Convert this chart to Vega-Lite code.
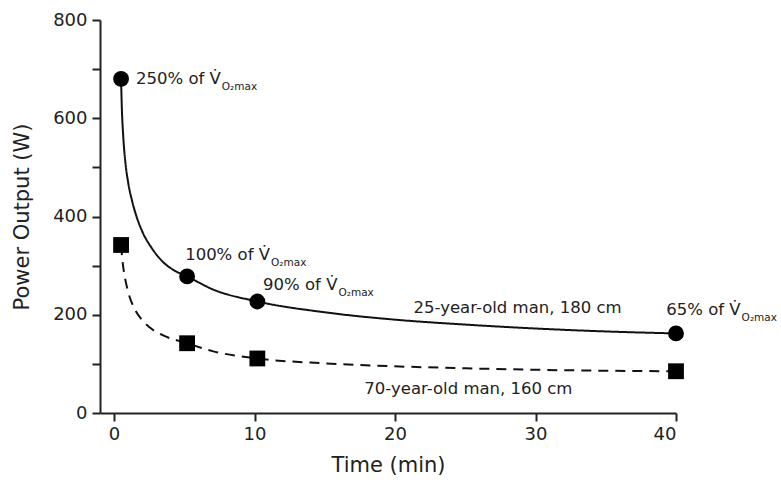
{
  "$schema": "https://vega.github.io/schema/vega-lite/v6.json",
  "width": 576,
  "height": 393,
  "autosize": {"type": "none"},
  "padding": {"left": 100, "top": 20, "right": 105, "bottom": 73},
  "background": "white",
  "config": {
    "view": {"stroke": null},
    "font": "DejaVu Sans",
    "axis": {
      "grid": false,
      "domainColor": "#222",
      "domainWidth": 2,
      "tickColor": "#222",
      "tickWidth": 2,
      "tickSize": 8,
      "labelFont": "DejaVu Sans",
      "labelFontSize": 18,
      "labelColor": "#222",
      "titleFont": "DejaVu Sans",
      "titleFontSize": 21,
      "titleFontWeight": "normal",
      "titleColor": "#222"
    }
  },
  "encoding": {
    "x": {
      "field": "t",
      "type": "quantitative",
      "scale": {"domain": [-1, 40], "nice": false, "zero": false},
      "axis": {"title": "Time (min)", "values": [0, 10, 20, 30, 40], "labelPadding": 4, "titlePadding": 11}
    },
    "y": {
      "field": "P",
      "type": "quantitative",
      "scale": {"domain": [0, 800], "nice": false},
      "axis": {
        "title": "Power Output (W)",
        "values": [0, 100, 200, 300, 400, 500, 600, 700, 800],
        "labelExpr": "datum.value % 200 === 0 ? datum.label : ''",
        "labelPadding": 5,
        "titlePadding": 20
      }
    }
  },
  "layer": [
    {
      "data": {
        "values": [
          {"group": "young", "t": 0.5, "P": 680},
          {"group": "young", "t": 0.55, "P": 625},
          {"group": "young", "t": 0.65, "P": 565},
          {"group": "young", "t": 0.8, "P": 512},
          {"group": "young", "t": 1.0, "P": 470},
          {"group": "young", "t": 1.3, "P": 430},
          {"group": "young", "t": 1.6, "P": 400},
          {"group": "young", "t": 2.0, "P": 370},
          {"group": "young", "t": 2.7, "P": 335},
          {"group": "young", "t": 3.5, "P": 307},
          {"group": "young", "t": 4.3, "P": 290},
          {"group": "young", "t": 5.2, "P": 278},
          {"group": "young", "t": 7.0, "P": 252},
          {"group": "young", "t": 10.2, "P": 227},
          {"group": "young", "t": 15, "P": 205},
          {"group": "young", "t": 20, "P": 190},
          {"group": "young", "t": 25, "P": 180},
          {"group": "young", "t": 30, "P": 172},
          {"group": "young", "t": 35, "P": 166},
          {"group": "young", "t": 40, "P": 162},
          {"group": "old", "t": 0.5, "P": 342},
          {"group": "old", "t": 0.6, "P": 310},
          {"group": "old", "t": 0.8, "P": 272},
          {"group": "old", "t": 1.0, "P": 247},
          {"group": "old", "t": 1.5, "P": 210},
          {"group": "old", "t": 2.0, "P": 189},
          {"group": "old", "t": 2.5, "P": 175},
          {"group": "old", "t": 3.5, "P": 158},
          {"group": "old", "t": 5.2, "P": 142},
          {"group": "old", "t": 7.0, "P": 126},
          {"group": "old", "t": 10.2, "P": 111},
          {"group": "old", "t": 15, "P": 101},
          {"group": "old", "t": 20, "P": 95},
          {"group": "old", "t": 25, "P": 91},
          {"group": "old", "t": 30, "P": 88},
          {"group": "old", "t": 35, "P": 86},
          {"group": "old", "t": 40, "P": 85}
        ]
      },
      "mark": {"type": "line", "interpolate": "monotone", "color": "#111", "strokeWidth": 2, "strokeCap": "butt"},
      "encoding": {
        "detail": {"field": "group"},
        "strokeDash": {
          "field": "group",
          "type": "nominal",
          "scale": {"domain": ["young", "old"], "range": [[1, 0], [10, 7]]},
          "legend": null
        }
      }
    },
    {
      "data": {
        "values": [
          {"group": "young", "t": 0.5, "P": 680},
          {"group": "young", "t": 5.2, "P": 278},
          {"group": "young", "t": 10.2, "P": 227},
          {"group": "young", "t": 40, "P": 162},
          {"group": "old", "t": 0.5, "P": 342},
          {"group": "old", "t": 5.2, "P": 142},
          {"group": "old", "t": 10.2, "P": 111},
          {"group": "old", "t": 40, "P": 85}
        ]
      },
      "mark": {"type": "point", "filled": true, "color": "#000", "opacity": 1, "size": 250},
      "encoding": {
        "shape": {
          "field": "group",
          "type": "nominal",
          "scale": {"domain": ["young", "old"], "range": ["circle", "square"]},
          "legend": null
        }
      }
    },
    {
      "data": {
        "values": [
          {"t": 7.6, "P": 680, "main": "250% of V\u0307", "sub": "O\u2082max"},
          {"t": 11.1, "P": 322, "main": "100% of V\u0307", "sub": "O\u2082max"},
          {"t": 15.9, "P": 261, "main": "90% of V\u0307", "sub": "O\u2082max"},
          {"t": 44.6, "P": 210, "main": "65% of V\u0307", "sub": "O\u2082max"}
        ]
      },
      "layer": [
        {
          "mark": {"type": "text", "align": "right", "baseline": "middle", "fontSize": 16.5, "color": "#222", "font": "DejaVu Sans"},
          "encoding": {"text": {"field": "main"}}
        },
        {
          "mark": {"type": "text", "align": "left", "baseline": "middle", "dx": 1, "dy": 8, "fontSize": 10.5, "color": "#222", "font": "DejaVu Sans"},
          "encoding": {"text": {"field": "sub"}}
        }
      ]
    },
    {
      "data": {
        "values": [
          {"t": 28.72, "P": 214, "label": "25-year-old man, 180 cm"},
          {"t": 25.22, "P": 49, "label": "70-year-old man, 160 cm"}
        ]
      },
      "mark": {"type": "text", "align": "center", "baseline": "middle", "fontSize": 16.5, "color": "#222", "font": "DejaVu Sans"},
      "encoding": {"text": {"field": "label"}}
    }
  ]
}
